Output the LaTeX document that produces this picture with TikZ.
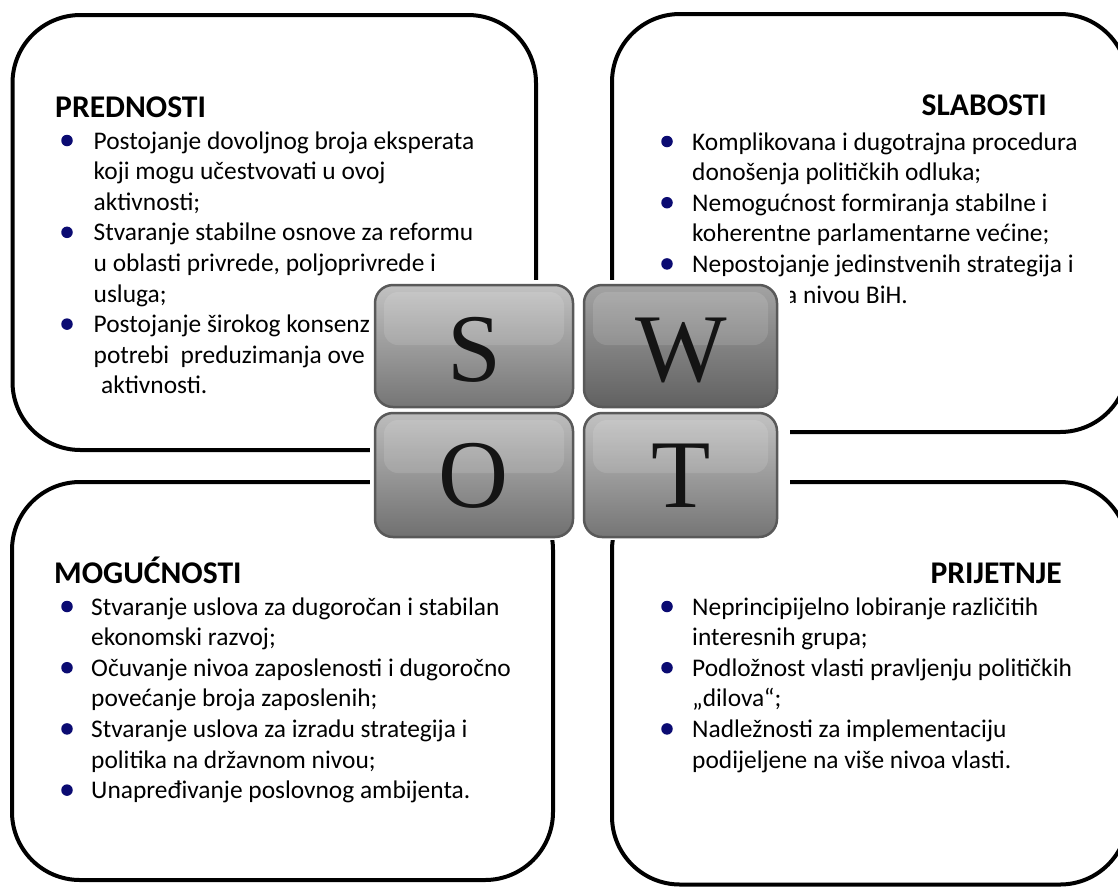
\documentclass[tikz,border=0pt]{standalone}
\usepackage{fontspec}
\setmainfont{Carlito}
\newfontfamily\tilefont{Liberation Serif}
\definecolor{bulletblue}{HTML}{0B0B72}
\begin{document}
\begin{tikzpicture}[x=1pt,y=-1pt,
  panel/.style={line width=4pt, rounded corners=68pt, draw=black},
  head/.style={anchor=base west, inner sep=0, font=\fontsize{31.6}{36}\selectfont\bfseries},
  headr/.style={anchor=base east, inner sep=0, font=\fontsize{31.6}{36}\selectfont\bfseries},
  txt/.style={anchor=base west, inner sep=0, font=\fontsize{25.4}{30}\selectfont},
  dot/.style={circle, fill=bulletblue, inner sep=0, minimum size=11.5pt},
  tile/.style={rounded corners=18pt, draw=black!65, line width=2.5pt},
  gloss/.style={white, opacity=0.12, rounded corners=14pt},
  letter/.style={anchor=base, inner sep=0, font=\fontsize{97}{97}\tilefont, text=black!92}
]
\useasboundingbox (0,0) rectangle (1118,887);
\clip (0,0) rectangle (1118,887);
\fill[white] (0,0) rectangle (1118,887);

% panels
\draw[panel] (12.5,15) rectangle (536,450);
\draw[panel] (612,14) rectangle (1128,432);
\draw[panel] (12,482) rectangle (553,880);
\draw[panel] (612,482) rectangle (1128,884.5);

% PREDNOSTI
\node[head] (hS) at (55,117) {PREDNOSTI};
\node[dot] (bS1) at (67,140.5) {};
\node[txt] (s1) at (93.5,149) {Postojanje dovoljnog broja eksperata};
\node[txt] (s2) at (93.5,179.6) {koji mogu učestvovati u ovoj};
\node[txt] (s3) at (93.5,210.2) {aktivnosti;};
\node[dot] (bS2) at (67,232.3) {};
\node[txt] (s4) at (93.5,240.8) {Stvaranje stabilne osnove za reformu};
\node[txt] (s5) at (93.5,271.4) {u oblasti privrede, poljoprivrede i};
\node[txt] (s6) at (93.5,302) {usluga;};
\node[dot] (bS3) at (67,324.1) {};
\node[txt] (s7) at (93.5,332.6) {Postojanje širokog konsenz};
\node[txt] (s8) at (93.5,363.2) {potrebi\ \ preduzimanja ove};
\node[txt] (s9) at (101,393.8) {aktivnosti.};

% SLABOSTI
\node[headr] (hW) at (1047,115) {SLABOSTI};
\node[dot] (bW1) at (667,141.5) {};
\node[txt] (w1) at (692,150) {Komplikovana i dugotrajna procedura};
\node[txt] (w2) at (692,180.6) {donošenja političkih odluka;};
\node[dot] (bW2) at (667,202.7) {};
\node[txt] (w3) at (692,211.2) {Nemogućnost formiranja stabilne i};
\node[txt] (w4) at (692,241.8) {koherentne parlamentarne većine;};
\node[dot] (bW3) at (667,263.9) {};
\node[txt] (w5) at (692,272.4) {Nepostojanje jedinstvenih strategija i};
\node[txt] (w6) at (785,303) {a nivou BiH.};

% MOGUCNOSTI
\node[head] (hO) at (54,583) {MOGUĆNOSTI};
\node[dot] (bO1) at (67,606.5) {};
\node[txt] (o1) at (91,615) {Stvaranje uslova za dugoročan i stabilan};
\node[txt] (o2) at (91,645.6) {ekonomski razvoj;};
\node[dot] (bO2) at (67,667.7) {};
\node[txt] (o3) at (91,676.2) {Očuvanje nivoa zaposlenosti i dugoročno};
\node[txt] (o4) at (91,706.8) {povećanje broja zaposlenih;};
\node[dot] (bO3) at (67,728.9) {};
\node[txt] (o5) at (91,737.4) {Stvaranje uslova za izradu strategija i};
\node[txt] (o6) at (91,768) {politika na državnom nivou;};
\node[dot] (bO4) at (67,790.1) {};
\node[txt] (o7) at (91,798.6) {Unapređivanje poslovnog ambijenta.};

% PRIJETNJE
\node[headr] (hT) at (1062,583) {PRIJETNJE};
\node[dot] (bT1) at (667,606.5) {};
\node[txt] (t1) at (692,615) {Neprincipijelno lobiranje različitih};
\node[txt] (t2) at (692,645.6) {interesnih grupa;};
\node[dot] (bT2) at (667,667.7) {};
\node[txt] (t3) at (692,676.2) {Podložnost vlasti pravljenju političkih};
\node[txt] (t4) at (692,706.8) {„dilova“;};
\node[dot] (bT3) at (667,728.9) {};
\node[txt] (t5) at (692,737.4) {Nadležnosti za implementaciju};
\node[txt] (t6) at (692,768) {podijeljene na više nivoa vlasti.};

% SWOT picture
\fill[white] (370,280) rectangle (790,540);
\shade[tile, top color=black!24, bottom color=black!54] (375,285) rectangle (573,407);
\shade[tile, top color=black!36, bottom color=black!62] (584,285) rectangle (777,407);
\shade[tile, top color=black!26, bottom color=black!56] (375,413) rectangle (573,537);
\shade[tile, top color=black!24, bottom color=black!54] (584,413) rectangle (777,537);
\fill[gloss] (384,292) rectangle (564,345);
\fill[gloss] (593,292) rectangle (768,345);
\fill[gloss] (384,420) rectangle (564,473);
\fill[gloss] (593,420) rectangle (768,473);
\node[letter] (S) at (474,381) {S};
\node[letter] (W) at (681,381) {W};
\node[letter] (O) at (474,507) {O};
\node[letter] (T) at (681,507) {T};
\end{tikzpicture}
\end{document}
